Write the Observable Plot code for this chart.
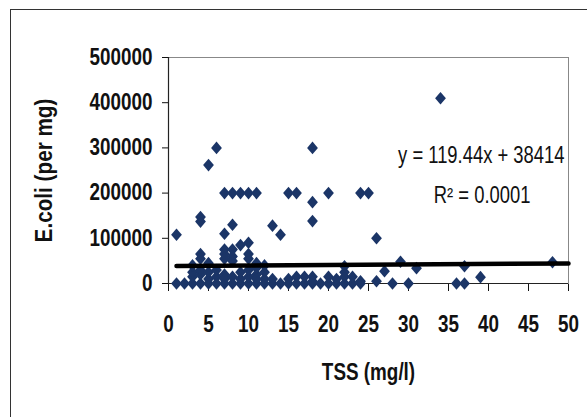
<!DOCTYPE html>
<html>
<head>
<meta charset="utf-8">
<script src="https://cdn.jsdelivr.net/npm/d3@7"></script>
<script src="https://cdn.jsdelivr.net/npm/@observablehq/plot@0.6"></script>
<style>
  html, body { margin: 0; padding: 0; background: #fff; }
  #wrap { position: relative; width: 587px; height: 417px; overflow: hidden; }
  #border { position: absolute; left: 10px; top: 9px; width: 600px; height: 430px; border: 1.5px solid #333; box-sizing: border-box; }
  #wrap svg { position: absolute; left: 0; top: 0; }
</style>
</head>
<body>
<div id="wrap"><div id="border"></div></div>
<script>
// TSS (mg/l) and E.coli (per mg) values
const tss = [
  1,2,3,4,5,6,7,8,9,10,11,12,13,14,15,16,17,18,19,20,21,22,23,24,28,30,36,37,
  3,3,4,4,5,5,6,6,7,7,8,9,9,10,10,11,11,12,12,13,15,16,17,18,18,20,21,22,22,23,24,26,27,39,
  4,4,5,3,7,7,7,8,8,8,9,10,10,10,11,11,12,29,31,37,48,22,
  1,4,4,5,6,7,7,8,8,9,10,11,13,14,15,16,18,18,18,20,24,25,26,34
];
const ecoli = [
  0,0,0,0,0,0,0,0,0,0,0,0,0,0,0,0,0,0,0,0,0,0,0,0,0,0,0,0,
  15000,25000,20000,30000,10000,25000,15000,30000,20000,10000,15000,10000,25000,15000,30000,20000,10000,25000,10000,10000,10000,15000,15000,15000,5000,15000,10000,25000,15000,15000,5000,5000,27000,14000,
  65000,55000,45000,40000,75000,65000,55000,75000,60000,50000,85000,90000,65000,55000,45000,35000,40000,48000,34000,38000,47000,38000,
  108000,147000,137000,262000,300000,200000,110000,200000,130000,200000,200000,200000,128000,108000,200000,200000,300000,180000,138000,200000,200000,200000,100000,410000
];
const xTicks = [0,5,10,15,20,25,30,35,40,45,50];
const yTicks = [0,100000,200000,300000,400000,500000];
const slope = 119.44;
const intercept = 38414;
const rSquared = "0.0001";
const xTitle = "TSS (mg/l)";
const yTitle = "E.coli (per mg)";

const points = tss.map((x, i) => ({x, y: ecoli[i]}));
const xDomain = [xTicks[0], xTicks[xTicks.length - 1]];
const yDomain = [yTicks[0], yTicks[yTicks.length - 1]];
const trend = [d3.min(tss), xDomain[1]].map(x => ({x, y: slope * x + intercept}));
const eqText = `y = ${slope}x + ${intercept}`;
const r2Text = `R² = ${rSquared}`;

// Excel-style diamond marker (slightly taller than wide)
const excelDiamond = {
  draw(context, size) {
    const k = Math.sqrt(size / Math.PI) / 5;
    const hw = 5.4 * k, hh = 6.3 * k;
    context.moveTo(0, -hh);
    context.lineTo(hw, 0);
    context.lineTo(0, hh);
    context.lineTo(-hw, 0);
    context.closePath();
  }
};

const font = "'Liberation Sans', Arial, sans-serif";

const chart = Plot.plot({
  width: 587,
  height: 417,
  marginLeft: 168,
  marginRight: 19,
  marginTop: 57,
  marginBottom: 134,
  style: {fontFamily: font, fontSize: "23px", color: "#111", background: "transparent", overflow: "visible"},
  x: {domain: xDomain, ticks: xTicks, tickSize: 8, tickPadding: 24, tickFormat: d => String(d),
      label: xTitle, labelAnchor: "center", labelArrow: "none", labelOffset: 96},
  y: {domain: yDomain, ticks: yTicks, tickSize: 6, tickPadding: 10, tickFormat: d => String(d),
      label: yTitle, labelAnchor: "center", labelArrow: "none", labelOffset: 133},
  marks: [
    Plot.frame({stroke: "#888", strokeWidth: 1}),
    Plot.ruleX([xDomain[0]], {stroke: "#222", strokeWidth: 1.2}),
    Plot.ruleY([yDomain[0]], {stroke: "#222", strokeWidth: 1.2}),
    Plot.dot(points, {x: "x", y: "y", symbol: excelDiamond, r: 5, fill: "#1b3567", stroke: "none"}),
    Plot.line(trend, {x: "x", y: "y", stroke: "#000", strokeWidth: 4.5}),
    Plot.text([eqText], {frameAnchor: "top-right", dx: -4, dy: 89, textAnchor: "end", fontSize: 23, fill: "#111"}),
    Plot.text([r2Text], {frameAnchor: "top-right", dx: -38, dy: 129, textAnchor: "end", fontSize: 23, fill: "#111"})
  ]
});
const sel = d3.select(chart);
sel.selectAll("[aria-label='x-axis tick label'], [aria-label='y-axis tick label'], [aria-label='x-axis label'], [aria-label='y-axis label']")
  .attr("font-weight", "bold");
document.getElementById("wrap").appendChild(chart);
// condense text horizontally (narrow typeface look)
function condense(selection, factor) {
  selection.each(function() {
    const len = this.getComputedTextLength();
    if (len > 0) {
      this.setAttribute("textLength", (len * factor).toFixed(1));
      this.setAttribute("lengthAdjust", "spacingAndGlyphs");
    }
  });
}
condense(sel.selectAll("[aria-label='x-axis tick label'] text, [aria-label='y-axis tick label'] text, [aria-label='x-axis label'] text"), 0.82);
condense(sel.selectAll("[aria-label='y-axis label'] text"), 0.9);
condense(sel.selectAll("[aria-label='text'] text"), 0.8);
</script>
</body>
</html>
